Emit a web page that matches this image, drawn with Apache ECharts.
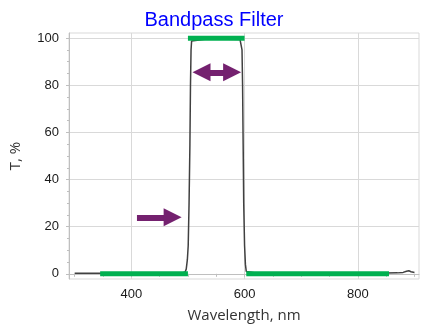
<!DOCTYPE html>
<html>
<head>
<meta charset="utf-8">
<script src="https://cdn.jsdelivr.net/npm/echarts@6/dist/echarts.min.js"></script>
<style>
  html, body { margin: 0; padding: 0; background: #fff; }
  #chart { width: 428px; height: 331px; }
</style>
</head>
<body>
<div id="chart"></div>
<script>
// Measured transmission of the filter, %
const wavelength = [300, 320, 340, 360, 380, 400, 420, 440, 460, 480, 490, 495, 497, 499, 500.5, 502, 503.5, 504.5, 505.5, 506.5, 508, 530, 550, 570, 592, 594.5, 595.5, 596.5, 597.5, 598.5, 600, 601.5, 603, 606, 620, 650, 700, 750, 800, 850, 870, 880, 886, 890, 894, 900];
const transmission = [0.2, 0.2, 0.2, 0.2, 0.2, 0.2, 0.2, 0.2, 0.2, 0.3, 0.4, 0.8, 2, 6, 12, 30, 55, 80, 95, 98.8, 99.4, 99.5, 99.5, 99.5, 99.4, 98.8, 95, 80, 55, 30, 12, 4, 1, 0.4, 0.3, 0.3, 0.3, 0.3, 0.3, 0.3, 0.4, 0.6, 1.1, 1.3, 0.9, 0.6];

// Spec bands: blocking below / above, passband at top
const blockLow = [[345, 0], [500, 0]];
const passBand = [[500, 100], [600, 100]];
const blockHigh = [[603, 0], [855, 0]];

// Annotation arrows (line endpoints in data units)
const edgeArrow = [[410, 24], [473, 24]];
const widthArrow = [[524, 85.5], [578, 85.5]];

// Axis ticks
const xMajor = [400, 600, 800];
const xMinor = [300, 350, 400, 450, 500, 550, 600, 650, 700, 750, 800, 850, 900];
const yMajor = [0, 20, 40, 60, 80, 100];
const yMinor = [0, 5, 10, 15, 20, 25, 30, 35, 40, 45, 50, 55, 60, 65, 70, 75, 80, 85, 90, 95, 100];

const xRange = [290, 908];
const yRange = [-2.2, 102.2];

const green = '#00b050';
const purple = '#74216f';
const gridColor = '#d9d9d9';
const tickFont = { fontFamily: 'Liberation Sans', fontSize: 13, color: '#1a1a1a' };

const chart = echarts.init(document.getElementById('chart'), null, { renderer: 'canvas' });

const bandSeries = (data) => ({
  type: 'line',
  data: data,
  showSymbol: false,
  symbol: 'none',
  lineStyle: { color: green, width: 5, cap: 'butt' },
  silent: true,
  z: 4
});

chart.setOption({
  animation: false,
  title: {
    text: 'Bandpass Filter',
    left: 'center',
    top: 5,
    textStyle: { fontFamily: 'Liberation Sans', fontSize: 20, fontWeight: 'normal', color: '#0000ff' }
  },
  grid: {
    left: 65, right: 9, top: 33, bottom: 52,
    show: true, borderColor: gridColor, borderWidth: 1
  },
  xAxis: [
    {
      type: 'value', min: xRange[0], max: xRange[1],
      name: 'Wavelength, nm', nameLocation: 'middle', nameGap: 29,
      nameTextStyle: { fontFamily: 'Open Sans', fontSize: 15, color: '#333' },
      axisLine: { show: true, lineStyle: { color: '#bfbfbf' } },
      axisTick: { show: true, customValues: xMajor, length: 4, lineStyle: { color: gridColor } },
      axisLabel: Object.assign({ customValues: xMajor, margin: 9 }, tickFont),
      splitLine: { show: true, lineStyle: { color: gridColor } }
    },
    {
      type: 'value', min: xRange[0], max: xRange[1], position: 'bottom',
      axisLine: { show: false },
      axisTick: { show: true, customValues: xMinor, length: 3, lineStyle: { color: '#bfbfbf' } },
      axisLabel: { show: false },
      splitLine: { show: false }
    }
  ],
  yAxis: [
    {
      type: 'value', min: yRange[0], max: yRange[1],
      name: 'T, %', nameLocation: 'middle', nameGap: 46,
      nameTextStyle: { fontFamily: 'Open Sans', fontSize: 15, color: '#333' },
      axisLine: { show: true, lineStyle: { color: '#bfbfbf' } },
      axisTick: { show: true, customValues: yMajor, length: 3, lineStyle: { color: '#bfbfbf' } },
      axisLabel: Object.assign({ customValues: yMajor, margin: 10 }, tickFont),
      splitLine: { show: true, lineStyle: { color: gridColor } }
    },
    {
      type: 'value', min: yRange[0], max: yRange[1], position: 'left',
      axisLine: { show: false },
      axisTick: { show: true, customValues: yMinor, length: 2, lineStyle: { color: '#bfbfbf' } },
      axisLabel: { show: false },
      splitLine: { show: false }
    }
  ],
  series: [
    {
      type: 'line',
      data: wavelength.map((w, i) => [w, transmission[i]]),
      showSymbol: false,
      symbol: 'none',
      lineStyle: { color: '#404040', width: 1.5 },
      silent: true,
      z: 3,
      markLine: {
        silent: true,
        animation: false,
        label: { show: false },
        emphasis: { disabled: true },
        lineStyle: { color: purple, width: 6, type: 'solid', cap: 'butt' },
        symbolSize: [18, 18],
        data: [
          [
            { coord: edgeArrow[0], symbol: 'none' },
            { coord: edgeArrow[1], symbol: 'triangle' }
          ],
          [
            { coord: widthArrow[0], symbol: 'triangle' },
            { coord: widthArrow[1], symbol: 'triangle' }
          ]
        ]
      }
    },
    bandSeries(blockLow),
    bandSeries(passBand),
    bandSeries(blockHigh)
  ]
});
</script>
</body>
</html>
